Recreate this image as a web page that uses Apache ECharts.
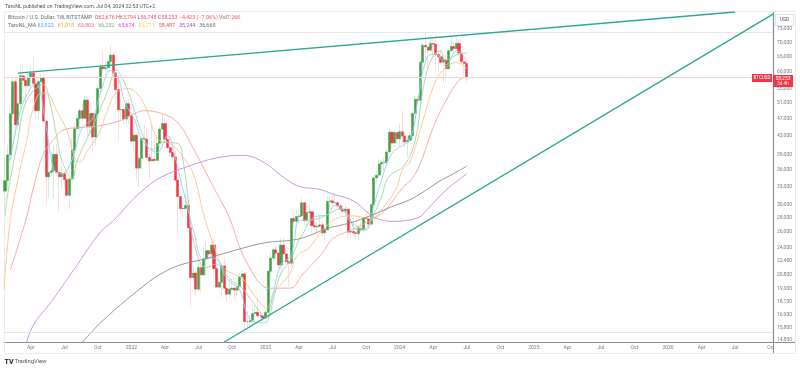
<!DOCTYPE html>
<html>
<head>
<meta charset="utf-8">
<style>html,body{margin:0;padding:0;background:#fff}#chart{width:800px;height:370px}</style>
<script src="https://cdn.jsdelivr.net/npm/echarts@6/dist/echarts.min.js"></script>
</head>
<body>
<div id="chart"></div>
<script>
// weekly candles, week 0 is the week of 2021-01-25
const opens = [
  32200,34000,38900,48200,57000,45500,50800,58800,57400,55800,
  58200,59700,56500,49000,57000,58200,46400,34700,35500,35800,
  39000,35500,34700,35300,34200,31500,34300,39900,44600,47000,
  49000,47100,51800,45100,48300,42700,48200,55000,61500,61000,
  61300,63300,65500,59700,54700,49200,49300,46900,50800,47700,
  41800,43100,36300,38200,42400,42200,38400,37700,38000,37800,
  41300,44500,45800,42200,40400,39400,38500,34100,31300,29400,
  29400,29900,26600,20500,21000,19300,21600,20800,22600,23600,
  23200,24300,21500,19500,20000,21800,19400,18800,19300,19400,
  19200,19600,20600,20900,16300,16300,16400,17000,17100,16800,
  16800,16600,17100,21200,22700,23700,23300,21900,24300,23200,
  22300,22100,27900,27500,28200,28300,30300,27600,28800,28900,
  26900,26700,26800,27000,25900,26300,30500,30600,30300,30300,
  29800,29300,29000,29300,26000,26100,25900,25800,26500,26300,
  28000,27900,27100,30000,34500,35000,37100,37400,37400,39500,
  43800,41400,43700,42300,43900,42900,41600,42000,43000,48300,
  52000,51700,63100,68900,68300,67200,69600,69300,65700,64900,
  63100,63900,61000,67000,68500,67700,69600,66200,63200,62676
];
const closes = [
  34000,38900,48200,57000,45500,50800,58800,57400,55800,58200,
  59700,56500,49000,57000,58200,46400,34700,35500,35800,39000,
  35500,34700,35300,34200,31500,34300,39900,44600,47000,49000,
  47100,51800,45100,48300,42700,48200,55000,61500,61000,61300,
  63300,65500,59700,54700,49200,49300,46900,50800,47700,41800,
  43100,36300,38200,42400,42200,38400,37700,38000,37800,41300,
  44500,45800,42200,40400,39400,38500,34100,31300,29400,29400,
  29900,26600,20500,21000,19300,21600,20800,22600,23600,23200,
  24300,21500,19500,20000,21800,19400,18800,19300,19400,19200,
  19600,20600,20900,16300,16300,16400,17000,17100,16800,16800,
  16600,17100,21200,22700,23700,23300,21900,24300,23200,22300,
  22100,27900,27500,28200,28300,30300,27600,28800,28900,26900,
  26700,26800,27000,25900,26300,30500,30600,30300,30300,29800,
  29300,29000,29300,26000,26100,25900,25800,26500,26300,28000,
  27900,27100,30000,34500,35000,37100,37400,37400,39500,43800,
  41400,43700,42300,43900,42900,41600,42000,43000,48300,52000,
  51700,63100,68900,68300,67200,69600,69300,65700,64900,63100,
  63900,61000,67000,68500,67700,69600,66200,63200,62676,58253
];
const highs = [
  38500,40900,49700,58400,58000,52600,61800,61000,58400,60200,
  61300,64900,57500,58500,59500,59600,46600,40800,39500,40900,
  41300,35600,36600,35900,34800,34700,42600,46000,48100,49700,
  50500,52900,52700,48800,48300,49200,56000,62900,67000,63600,
  64200,69000,66400,59800,59200,51900,49500,52000,52100,47500,
  44400,43500,38900,42600,45800,44800,39900,45400,42500,42400,
  45100,48200,47200,41600,42900,40700,40000,34200,30600,30200,
  32200,31700,26800,21800,21500,22400,21900,24200,24700,23600,
  25200,25200,21800,20500,22000,22800,19500,20300,20400,19900,
  19700,21000,21400,21000,17200,16800,17400,17400,18400,17100,
  16900,17400,21300,23400,23900,24200,23400,25200,25200,23900,
  22600,28000,28900,29200,29100,31000,30500,30000,29900,29100,
  27600,27400,28400,27400,26800,31400,31300,31400,31800,30400,
  30300,30000,30200,29700,26800,28100,26100,27000,27500,28000,
  28600,28000,30200,35200,35900,37900,37900,38400,40200,44700,
  43400,44300,43800,45900,49000,43600,42800,43900,48500,52800,
  52900,64000,70200,73800,68900,71500,71300,72800,66900,67200,
  64700,65500,67700,71900,70000,71900,70200,66900,63300,63794
];
const lows = [
  29200,32300,37400,47000,43000,45000,49300,53300,50400,54900,
  55500,55000,47000,47000,52900,45700,30000,31200,34800,31000,
  34800,28800,32700,32700,31000,29300,34000,37300,43800,43900,
  46300,46700,42800,43400,39600,40800,46900,53900,59700,57800,
  60000,62300,55700,53500,42000,46800,45600,45600,45700,40600,
  39600,34000,32900,36200,41700,38000,34300,37500,37200,37600,
  40500,44500,41900,39600,38500,37700,33700,25400,28600,28000,
  29300,26600,17600,20000,18600,19100,18900,20700,20700,22400,
  22700,20800,19600,19500,18500,19300,18100,18500,19100,18200,
  18600,19200,20000,15600,15800,15400,16000,16700,16500,16300,
  16300,16500,17100,20400,22300,22500,21400,21400,22800,21900,
  19600,21800,26600,26500,27200,28200,27100,26900,27700,25800,
  26300,25900,26600,25400,24800,26300,29500,29700,30000,29500,
  29100,28600,28700,25200,25400,25300,24900,24900,26000,26000,
  27100,26500,26900,29800,33400,34500,35600,35600,36900,39200,
  40200,40500,41300,40700,41500,40300,38500,41900,42300,48300,
  50600,50900,59000,64600,60800,66800,64500,60700,59600,62400,
  56500,56900,60700,66700,66700,67500,65100,62500,58500,56748
];

const maBlue = [[2,37800],[6,49000],[10,55300],[12,56500],[16,44900],[19,36000],[22,35200],[26,38000],[30,44900],[34,47000],[37,53700],[41,60500],[44,57700],[46.5,51000],[50,47000],[53.5,41800],[59,39400],[63,43000],[66,38400],[68,34200],[70.5,30000],[73,26300],[77,22600],[81,22700],[86,20400],[91,19200],[94,16900],[98,16200],[101,16200],[103,17800],[107,22000],[110.5,22800],[112,24400],[114,27600],[119,27700],[125,28500],[128,29900],[132.5,28700],[136.5,26300],[140,26300],[142.6,29300],[146,34200],[150,39200],[157,42400],[160,51600],[163.5,64500],[167,65800],[171,62300],[175,67000],[179,63922]];
const maGreen = [[0,28200],[1,31600],[5,42000],[7,49000],[10.5,54000],[15,56000],[17,52500],[20,43000],[22,37800],[26,34500],[28,37800],[32,42600],[36,48000],[40,54700],[43,60500],[47,55500],[50,49300],[53.5,43000],[57,40000],[61,41500],[67,41300],[69,37800],[71,30900],[73,24900],[78,21600],[82,22000],[87,20400],[92,19400],[95,18400],[100,16800],[102,16600],[104,18300],[107,21000],[110.5,22400],[114,25000],[115.5,25800],[119,27900],[125,28500],[130,29400],[134,27500],[139,26400],[142.6,28300],[146,31300],[148.5,34500],[155,37000],[159,42000],[162,54500],[165,63500],[168.6,67000],[171,63800],[175,65500],[179,66232]];
const maOrange = [[-0.4,19200],[2,27600],[5,34200],[8.5,42200],[11,49800],[14,53700],[16,53700],[20,49000],[24,44200],[27,38400],[29,37500],[32,39800],[36,43000],[40,49600],[43,53700],[48,55000],[51,53700],[55,49200],[59,42400],[64,41300],[68,39200],[73,35200],[77,28500],[81,24200],[85,21500],[92,20400],[96,18900],[101.5,17500],[104,18900],[110.5,21000],[113,22900],[118,24000],[123,26200],[129,28000],[135,28300],[141.5,27900],[148,30300],[152,33000],[154,36000],[157,37500],[162,46500],[167,57300],[171,61400],[175,63000],[179,61018]];
const maSalmon = [[2,21300],[8,27600],[11,32700],[15,39200],[19,42200],[23,44400],[30,44900],[37,45300],[45,46600],[50,48200],[54,49000],[61,48200],[67,46000],[73,40200],[81,32700],[87,28000],[91,24000],[95,21500],[100,19600],[103.5,19400],[110.5,19400],[115.5,20900],[123,23300],[127,25100],[135,26400],[141.5,27600],[147,29000],[154,32700],[158,34500],[161,37200],[166,44900],[171,51700],[176,57400],[179,58487]];
const maPurple = [[8,14400],[11,16000],[18,18100],[27,21500],[37,26000],[42,27600],[50,31000],[57,33600],[63,35200],[72,36800],[82,38300],[92,38800],[100,37500],[108,34600],[114,33000],[122,32500],[127,31700],[135,30600],[141.5,28500],[145,27800],[150,27500],[160,28000],[163.5,29200],[171,32400],[176,34200],[179,35244]];
const maGray = [[29,14400],[38,16400],[56,20100],[63,21300],[69,22000],[76,22500],[82,23000],[92,23900],[101,24600],[114,25100],[125,26500],[134,27300],[141.5,28300],[150,29700],[157,30800],[163,32300],[168,33800],[174,35300],[179,36665]];

const trendTop = [[5,59600],[283,82000]];
const trendBottom = [[85,14650],[297.7,81100]];
const flatLines = [73800, 15400];
const lastPrice = 58253;

const priceTicks = [75000,70000,65000,60000,55000,51000,47000,43000,39000,36000,33000,30000,28000,26000,24000,22400,20800,19300,18100,16900,15800,14800];
// [week number, label]
const timeTicks = [[10,'Apr'],[23,'Jul'],[36,'Oct'],[49,'2022'],[62,'Apr'],[75,'Jul'],[88,'Oct'],[101,'2023'],[114,'Apr'],[127,'Jul'],[140,'Oct'],[153,'2024'],[166,'Apr'],[179,'Jul'],[192,'Oct'],[205,'2025'],[218,'Apr'],[231,'Jul'],[244,'Oct'],[257,'2026'],[270,'Apr'],[283,'Jul'],[297,'Oct']];

const timeLabel = {};
timeTicks.forEach(t => { timeLabel[t[0]] = t[1]; });

const fontName = 'Roboto, "Noto Sans", sans-serif';

function maLine(data, color) {
  return { type: 'line', data: data, showSymbol: false, smooth: 0.4, silent: true, lineStyle: { color: color, width: 0.9 }, z: 4 };
}
function trendLine(data) {
  return { type: 'line', data: data, showSymbol: false, silent: true, lineStyle: { color: '#2aa893', width: 1.4 }, z: 5 };
}

const wickData = opens.map((o, i) => [i, o, closes[i], lows[i], highs[i]]);
const bodyData = opens.map((o, i) => [i, o, closes[i], Math.min(o, closes[i]), Math.max(o, closes[i])]);

const chart = echarts.init(document.getElementById('chart'));
chart.setOption({
  animation: false,
  backgroundColor: '#fff',
  textStyle: { fontFamily: fontName },
  grid: { left: 4, right: 27, top: 12, bottom: 28 },
  xAxis: {
    type: 'value',
    min: -0.39,
    max: 297.7,
    splitLine: { show: false },
    axisTick: { show: false },
    axisLine: { onZero: false, lineStyle: { color: '#8a8d96', width: 1.2 } },
    axisLabel: {
      customValues: timeTicks.map(t => t[0]),
      formatter: (v) => timeLabel[v] || '',
      color: '#787b86',
      fontSize: 5,
      margin: 3,
      hideOverlap: false
    }
  },
  yAxis: {
    type: 'log',
    logBase: 10,
    min: 14650,
    max: 82000,
    position: 'right',
    splitLine: { show: false },
    minorTick: { show: false },
    axisTick: { show: false },
    axisLine: { show: true, onZero: false, lineStyle: { color: '#8a8d96', width: 1.2 } },
    axisLabel: {
      customValues: priceTicks,
      formatter: (v) => Math.round(v).toLocaleString('en-US'),
      color: '#787b86',
      fontSize: 5,
      margin: 4
    }
  },
  series: [
    {
      type: 'candlestick',
      data: wickData,
      barWidth: 1,
      silent: true,
      itemStyle: { color: 'transparent', color0: 'transparent', borderColor: '#d5ece6', borderColor0: '#fcdde0', borderWidth: 1 },
      z: 2
    },
    {
      type: 'candlestick',
      data: bodyData,
      barWidth: 2.6,
      silent: true,
      itemStyle: { color: '#43a047', color0: '#f23645', borderColor: '#43a047', borderColor0: '#f23645', borderWidth: 0.5 },
      z: 3,
      markLine: {
        silent: true,
        symbol: 'none',
        label: { show: false },
        animation: false,
        data: [
          { yAxis: lastPrice, lineStyle: { color: '#fbd0d4', width: 1, type: 'solid' } },
          { yAxis: flatLines[0], lineStyle: { color: '#e6e6e9', width: 1, type: 'solid' } },
          { yAxis: flatLines[1], lineStyle: { color: '#e6e6e9', width: 1, type: 'solid' } }
        ]
      }
    },
    maLine(maSalmon, '#f8a3a3'),
    maLine(maOrange, '#fbc490'),
    maLine(maGreen, '#a3d6a4'),
    maLine(maBlue, '#96cff3'),
    maLine(maPurple, '#c98ae0'),
    maLine(maGray, '#8c8c8c'),
    trendLine(trendTop),
    trendLine(trendBottom)
  ],
  graphic: [
    // outer frame and the axis lines running past the plot
    { type: 'rect', shape: { x: 4.5, y: 11.5, width: 791, height: 342 }, style: { fill: 'none', stroke: '#ececef', lineWidth: 1 }, z: 1, silent: true },
    { type: 'line', shape: { x1: 773.5, y1: 342, x2: 773.5, y2: 354 }, style: { stroke: '#8a8d96', lineWidth: 1 }, silent: true },
    { type: 'line', shape: { x1: 773, y1: 342.5, x2: 796, y2: 342.5 }, style: { stroke: '#8a8d96', lineWidth: 1 }, silent: true },
    // hides the part of the last label that runs past the price scale
    { type: 'rect', shape: { x: 774, y: 343, width: 21, height: 10 }, style: { fill: '#fff' }, z: 50, silent: true },
    { type: 'text', x: 5, y: 6.5, style: { text: 'TaroNL published on TradingView.com, Jul 04, 2024 22:53 UTC+2', fill: '#50535e', fontSize: 5.2, fontFamily: fontName, verticalAlign: 'middle' }, silent: true },
    {
      type: 'text', x: 8, y: 18, silent: true, z: 60,
      style: {
        text: '{g|Bitcoin / U.S. Dollar, 1W, BITSTAMP  O}{r|62,676} {g|H}{r|63,794} {g|L}{r|56,748} {g|C}{r|58,253} {r|\u22124,423 (\u22127.06%)} {g|Vol}{r|7.26K}',
        verticalAlign: 'middle',
        fontSize: 5.4,
        fontFamily: fontName,
        rich: {
          g: { fill: '#666a75', fontSize: 5.4, fontFamily: fontName },
          r: { fill: '#f0525f', fontSize: 5.4, fontFamily: fontName }
        }
      }
    },
    {
      type: 'text', x: 8, y: 25.7, silent: true, z: 60,
      style: {
        text: '{g|TaroNL_MA} {a|63,922}   {b|61,018}   {c|63,803}   {d|66,232}   {e|65,674}   {f|65,711}   {h|58,487}   {i|35,244}   {g|36,665}',
        verticalAlign: 'middle',
        fontSize: 5.4,
        fontFamily: fontName,
        rich: {
          g: { fill: '#666a75', fontSize: 5.4, fontFamily: fontName },
          a: { fill: '#42a5f5', fontSize: 5.4, fontFamily: fontName },
          b: { fill: '#ffa726', fontSize: 5.4, fontFamily: fontName },
          c: { fill: '#f06292', fontSize: 5.4, fontFamily: fontName },
          d: { fill: '#66bb6a', fontSize: 5.4, fontFamily: fontName },
          e: { fill: '#e040fb', fontSize: 5.4, fontFamily: fontName },
          f: { fill: '#fdd835', fontSize: 5.4, fontFamily: fontName },
          h: { fill: '#ef5350', fontSize: 5.4, fontFamily: fontName },
          i: { fill: '#ab47bc', fontSize: 5.4, fontFamily: fontName }
        }
      }
    },
    // USD box and last price badges
    { type: 'rect', shape: { x: 775.5, y: 14.5, width: 18, height: 11 }, style: { fill: '#fff', stroke: '#e0e3eb', lineWidth: 1 }, z: 40, silent: true },
    { type: 'text', x: 784.5, y: 20, z: 41, silent: true, style: { text: 'USD', fill: '#50535e', fontSize: 5, fontFamily: fontName, align: 'center', verticalAlign: 'middle' } },
    { type: 'rect', shape: { x: 752, y: 74, width: 20, height: 8 }, style: { fill: '#f23645' }, z: 40, silent: true },
    { type: 'text', x: 762, y: 78.2, z: 41, silent: true, style: { text: 'BTCUSD', fill: '#fff', fontSize: 4.6, fontFamily: fontName, align: 'center', verticalAlign: 'middle' } },
    { type: 'rect', shape: { x: 773, y: 75, width: 20, height: 12 }, style: { fill: '#f23645' }, z: 40, silent: true },
    { type: 'text', x: 783, y: 78.3, z: 41, silent: true, style: { text: '58,253', fill: '#fff', fontSize: 5, fontFamily: fontName, align: 'center', verticalAlign: 'middle' } },
    { type: 'text', x: 783, y: 84, z: 41, silent: true, style: { text: '3d 4h', fill: '#fff', fontSize: 4.6, fontFamily: fontName, align: 'center', verticalAlign: 'middle' } },
    // TradingView mark
    { type: 'text', x: 4.5, y: 362, silent: true, style: { text: 'TV', fill: '#131722', fontSize: 7, fontWeight: 'bold', fontFamily: fontName, verticalAlign: 'middle' } },
    { type: 'text', x: 14.5, y: 362, silent: true, style: { text: 'TradingView', fill: '#50535e', fontSize: 5.8, fontFamily: fontName, verticalAlign: 'middle' } }
  ]
});
window.addEventListener('resize', () => chart.resize());
</script>
</body>
</html>
